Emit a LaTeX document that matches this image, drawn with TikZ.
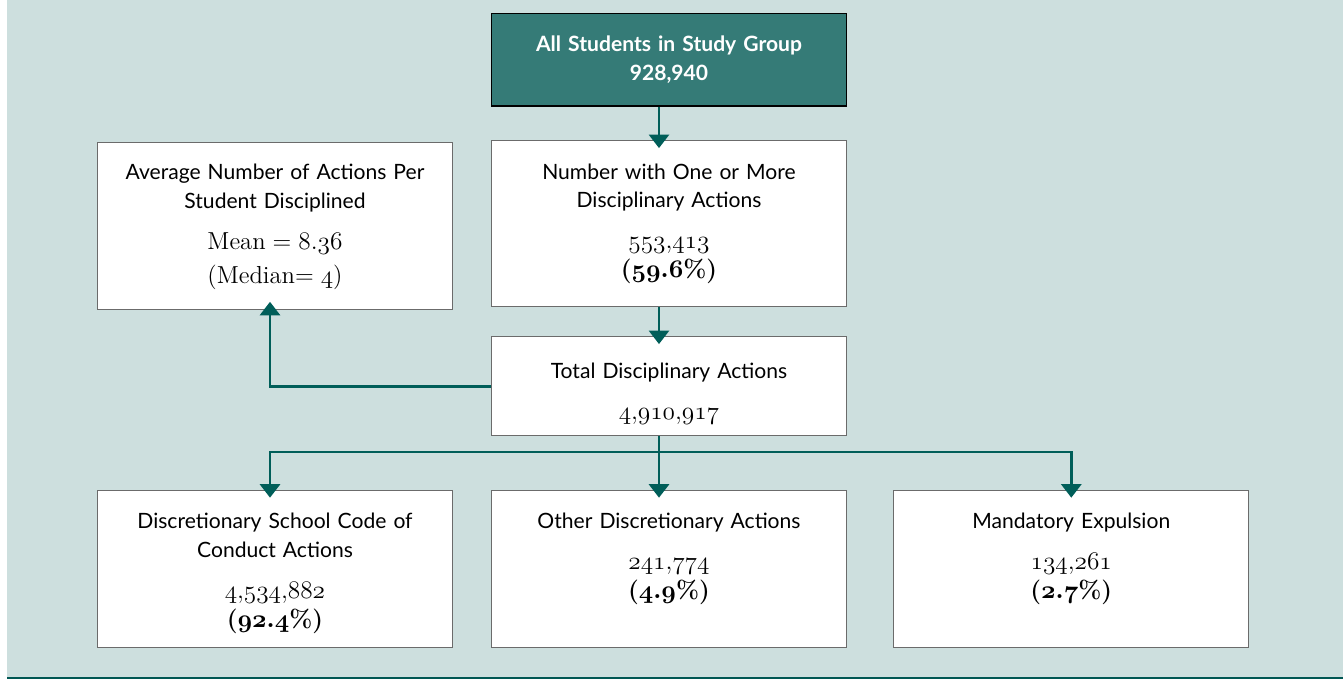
\documentclass[tikz,border=0pt]{standalone}
\usepackage{fontspec}
\setsansfont{Lato}
\usetikzlibrary{arrows.meta}
\definecolor{panel}{HTML}{CDDFDE}
\definecolor{headfill}{HTML}{357B77}
\definecolor{flow}{HTML}{005E59}
\definecolor{footline}{HTML}{005753}
\newcommand{\numfont}{\rmfamily\fontsize{14}{16.4}\selectfont}
\newcommand{\onum}[1]{\ensuremath{\mathnormal{#1}}}
\newcommand{\share}[1]{{\boldmath\textbf{(\onum{#1}\%)}}}
\newcommand{\padbox}{\rule[-0.7cm]{0pt}{0.7cm}}
\newcommand{\lift}[1]{\rule{0pt}{#1}}

\begin{document}
\begin{tikzpicture}[x=0.02cm, y=-0.02cm,
    box/.style={draw=black!58, line width=0.7pt, fill=white,
        minimum width=7.1cm, minimum height=#1, text width=6.6cm,
        align=center, inner sep=0pt,
        font=\sffamily\fontsize{12}{16.4}\selectfont},
    box/.default=3.14cm,
    head/.style={box=1.85cm, draw=black, fill=headfill, text=white,
        font=\sffamily\bfseries\fontsize{12}{16.4}\selectfont},
    link/.style={draw=flow, line width=1.6pt,
        -{Triangle[width=0.4cm,length=0.27cm]}, shorten >=-0.16cm}]

    \useasboundingbox (0,0) rectangle (1343,679);
    \fill[panel] (7,0) rectangle (1343,676.5);
    \fill[footline] (7,676.5) rectangle (1343,679);

    \coordinate (trunk) at (659,0);
    \coordinate (branch) at (270,0);
    \coordinate (bus) at (0,452);

    \node[head] (top) at (669,59.7) {All Students in Study Group\\ 928,940};
    \node[box=3.32cm] (num) at (669,223.7) {Number with One or More\\ Disciplinary Actions\\[0.24cm]
        {\numfont\onum{553{,}413}\\ \share{59.6}}};
    \node[box=3.34cm] (avg) at (275,225.7) {\lift{0.36cm}Average Number of Actions Per\\ Student Disciplined\\[0.24cm]
        {\numfont Mean = \onum{8.36}\\[0.12cm] (Median= \onum{4})}};
    \node[box=1.98cm] (total) at (669,386.2) {\lift{0.62cm}Total Disciplinary Actions\\[0.24cm]
        {\numfont\onum{4{,}910{,}917}}};
    \node[box] (conduct) at (275,568.8) {\lift{0.5cm}Discretionary School Code of\\ Conduct Actions\\[0.24cm]
        {\numfont\onum{4{,}534{,}882}\\ \share{92.4}}};
    \node[box] (other) at (669,568.8) {\lift{0.5cm}Other Discretionary Actions\\[0.24cm]
        {\numfont\onum{241{,}774}\\ \share{4.9}\padbox}};
    \node[box] (expel) at (1071.3,568.8) {\lift{0.5cm}Mandatory Expulsion\\[0.24cm]
        {\numfont\onum{134{,}261}\\ \share{2.7}\padbox}};

    \draw[link] (top.south -| trunk) -- (num.north -| trunk);
    \draw[link] (num.south -| trunk) -- (total.north -| trunk);
    \draw[link] (total.west) -| (avg.south -| branch);
    \draw[link] (total.south -| trunk) -- (other.north -| trunk);
    \draw[link] (bus -| trunk) -| (conduct.north -| branch);
    \draw[link] (bus -| trunk) -| (expel.north);
\end{tikzpicture}
\end{document}
